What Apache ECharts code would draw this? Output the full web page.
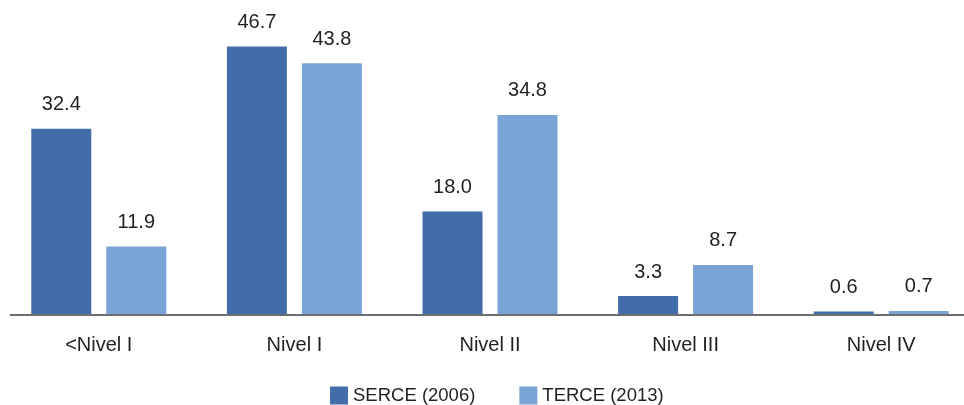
<!DOCTYPE html>
<html>
<head>
<meta charset="utf-8">
<script src="https://cdn.jsdelivr.net/npm/echarts@6/dist/echarts.min.js"></script>
<style>
  html, body { margin: 0; padding: 0; background: #fff; }
  #chart { width: 964px; height: 405px; }
</style>
</head>
<body>
<div id="chart"></div>
<script>
  var categories = ['<Nivel I', 'Nivel I', 'Nivel II', 'Nivel III', 'Nivel IV'];
  var serce2006 = [32.4, 46.7, 18.0, 3.3, 0.6];
  var terce2013 = [11.9, 43.8, 34.8, 8.7, 0.7];
  var seriesNames = ['SERCE (2006)', 'TERCE (2013)'];

  var chart = echarts.init(document.getElementById('chart'));

  var labelStyle = {
    show: true,
    position: 'top',
    distance: 14,
    fontFamily: 'Liberation Sans, Arial, sans-serif',
    fontSize: 20,
    color: '#231f20',
    formatter: function (p) { return p.value.toFixed(1) }
  };

  chart.setOption({
    animation: false,
    grid: { left: 1, top: 27.5, width: 978, height: 287.5, outerBoundsMode: 'none' },
    legend: {
      left: 325,
      top: 381,
      itemWidth: 18,
      itemHeight: 18,
      itemGap: 44,
      icon: 'rect',
      textStyle: { fontFamily: 'Liberation Sans, Arial, sans-serif', fontSize: 18.5, color: '#231f20' },
      data: seriesNames
    },
    xAxis: {
      type: 'category',
      data: categories,
      axisLine: { show: false },
      axisTick: { show: false },
      axisLabel: {
        margin: 20,
        fontFamily: 'Liberation Sans, Arial, sans-serif',
        fontSize: 20,
        color: '#231f20'
      }
    },
    yAxis: {
      type: 'value',
      min: 0,
      max: 50,
      show: false,
      splitLine: { show: false }
    },
    graphic: [{
      type: 'line',
      shape: { x1: 10, y1: 315, x2: 964, y2: 315 },
      style: { stroke: '#6d6e70', lineWidth: 2 },
      z: 10
    }],
    series: [
      {
        name: seriesNames[0],
        type: 'bar',
        data: serce2006,
        barWidth: 60,
        barGap: '25%',
        itemStyle: { color: '#436caa' },
        label: labelStyle
      },
      {
        name: seriesNames[1],
        type: 'bar',
        data: terce2013,
        barWidth: 60,
        itemStyle: { color: '#7ba4d6' },
        label: labelStyle
      }
    ]
  });
</script>
</body>
</html>
